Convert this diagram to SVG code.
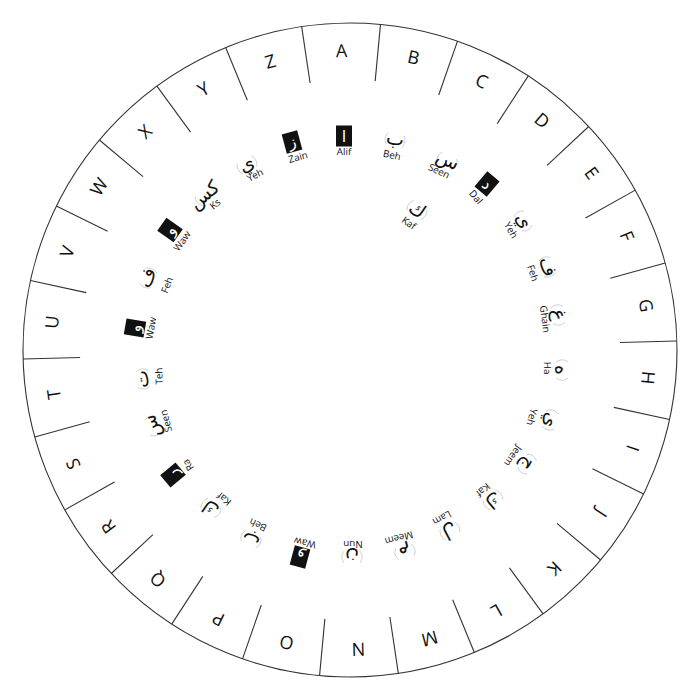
<svg xmlns="http://www.w3.org/2000/svg" xmlns:xlink="http://www.w3.org/1999/xlink" width="700" height="700" viewBox="0 0 700 700">
<style>
.ring{fill:none;stroke:#333;stroke-width:1.1}
.div{stroke:#333;stroke-width:1.1}
.L{font-family:"Open Sans","Liberation Sans",sans-serif;font-size:18px;fill:#111;text-anchor:middle;dominant-baseline:central}
.lab{font-family:"Open Sans","Liberation Sans",sans-serif;font-size:9.8px;fill:#111;text-anchor:middle;dominant-baseline:central}
.ar{font-family:"DejaVu Sans",sans-serif;font-size:19px;fill:#111;text-anchor:middle;dominant-baseline:central}
.arw{font-family:"DejaVu Sans",sans-serif;font-size:16px;fill:#fff;text-anchor:middle;dominant-baseline:central}
.box{fill:#111}
.arc{fill:none;stroke:#c8c8c8;stroke-width:0.8}
</style>
<defs>
<path id="arcs" class="arc" d="M-8,-6 A10,10 0 0 0 -8,6 M8,-6 A10,10 0 0 1 8,6"/>
</defs>
<rect width="700" height="700" fill="#fff"/>
<g id="wheel">
<circle class="ring" cx="350" cy="350" r="327"/>
</g>
<g id="connectors">
<line class="div" x1="350" y1="23" x2="350" y2="80" transform="rotate(-8.5 350 350)"/>
<line class="div" x1="350" y1="23" x2="350" y2="80" transform="rotate(5.35 350 350)"/>
<line class="div" x1="350" y1="23" x2="350" y2="80" transform="rotate(19.19 350 350)"/>
<line class="div" x1="350" y1="23" x2="350" y2="80" transform="rotate(33.04 350 350)"/>
<line class="div" x1="350" y1="23" x2="350" y2="80" transform="rotate(46.88 350 350)"/>
<line class="div" x1="350" y1="23" x2="350" y2="80" transform="rotate(60.73 350 350)"/>
<line class="div" x1="350" y1="23" x2="350" y2="80" transform="rotate(74.58 350 350)"/>
<line class="div" x1="350" y1="23" x2="350" y2="80" transform="rotate(88.42 350 350)"/>
<line class="div" x1="350" y1="23" x2="350" y2="80" transform="rotate(102.27 350 350)"/>
<line class="div" x1="350" y1="23" x2="350" y2="80" transform="rotate(116.11 350 350)"/>
<line class="div" x1="350" y1="23" x2="350" y2="80" transform="rotate(129.96 350 350)"/>
<line class="div" x1="350" y1="23" x2="350" y2="80" transform="rotate(143.81 350 350)"/>
<line class="div" x1="350" y1="23" x2="350" y2="80" transform="rotate(157.65 350 350)"/>
<line class="div" x1="350" y1="23" x2="350" y2="80" transform="rotate(171.5 350 350)"/>
<line class="div" x1="350" y1="23" x2="350" y2="80" transform="rotate(185.34 350 350)"/>
<line class="div" x1="350" y1="23" x2="350" y2="80" transform="rotate(199.19 350 350)"/>
<line class="div" x1="350" y1="23" x2="350" y2="80" transform="rotate(213.04 350 350)"/>
<line class="div" x1="350" y1="23" x2="350" y2="80" transform="rotate(226.88 350 350)"/>
<line class="div" x1="350" y1="23" x2="350" y2="80" transform="rotate(240.73 350 350)"/>
<line class="div" x1="350" y1="23" x2="350" y2="80" transform="rotate(254.57 350 350)"/>
<line class="div" x1="350" y1="23" x2="350" y2="80" transform="rotate(268.42 350 350)"/>
<line class="div" x1="350" y1="23" x2="350" y2="80" transform="rotate(282.27 350 350)"/>
<line class="div" x1="350" y1="23" x2="350" y2="80" transform="rotate(296.11 350 350)"/>
<line class="div" x1="350" y1="23" x2="350" y2="80" transform="rotate(309.96 350 350)"/>
<line class="div" x1="350" y1="23" x2="350" y2="80" transform="rotate(323.81 350 350)"/>
<line class="div" x1="350" y1="23" x2="350" y2="80" transform="rotate(337.65 350 350)"/>
</g>
<g id="outer-letters">
<text class="L" x="350" y="50" transform="rotate(-1.6 350 350)">A</text>
<text class="L" x="350" y="50" transform="rotate(12.25 350 350)">B</text>
<text class="L" x="350" y="50" transform="rotate(26.09 350 350)">C</text>
<text class="L" x="350" y="50" transform="rotate(39.94 350 350)">D</text>
<text class="L" x="350" y="50" transform="rotate(53.78 350 350)">E</text>
<text class="L" x="350" y="50" transform="rotate(67.63 350 350)">F</text>
<text class="L" x="350" y="50" transform="rotate(81.48 350 350)">G</text>
<text class="L" x="350" y="50" transform="rotate(95.32 350 350)">H</text>
<text class="L" x="350" y="50" transform="rotate(109.17 350 350)">I</text>
<text class="L" x="350" y="50" transform="rotate(123.01 350 350)">J</text>
<text class="L" x="350" y="50" transform="rotate(136.86 350 350)">K</text>
<text class="L" x="350" y="50" transform="rotate(150.71 350 350)">L</text>
<text class="L" x="350" y="50" transform="rotate(164.55 350 350)">M</text>
<text class="L" x="350" y="50" transform="rotate(178.4 350 350)">N</text>
<text class="L" x="350" y="50" transform="rotate(192.24 350 350)">O</text>
<text class="L" x="350" y="50" transform="rotate(206.09 350 350)">P</text>
<text class="L" x="350" y="50" transform="rotate(219.94 350 350)">Q</text>
<text class="L" x="350" y="50" transform="rotate(233.78 350 350)">R</text>
<text class="L" x="350" y="50" transform="rotate(247.63 350 350)">S</text>
<text class="L" x="350" y="50" transform="rotate(261.47 350 350)">T</text>
<text class="L" x="350" y="50" transform="rotate(275.32 350 350)">U</text>
<text class="L" x="350" y="50" transform="rotate(289.17 350 350)">V</text>
<text class="L" x="350" y="50" transform="rotate(303.01 350 350)">W</text>
<text class="L" x="350" y="50" transform="rotate(316.86 350 350)">X</text>
<text class="L" x="350" y="50" transform="rotate(330.71 350 350)">Y</text>
<text class="L" x="350" y="50" transform="rotate(344.55 350 350)">Z</text>
</g>
<g id="alif"><g transform="translate(344,136)"><rect class="box" x="-8" y="-10.5" width="16" height="21"/><text class="arw" x="0" y="0">ا</text></g><text class="lab" transform="translate(344,151)">Alif</text></g>
<g id="beh1"><g transform="translate(395,140) rotate(12)"><use xlink:href="#arcs"/><text class="ar" x="0" y="-2">ب</text></g><text class="lab" transform="translate(392,155) rotate(12)">Beh</text></g>
<g id="seen1"><g transform="translate(447,161) rotate(25)"><use xlink:href="#arcs"/><text class="ar" x="0" y="-2">س</text></g><text class="lab" transform="translate(439,171) rotate(25)">Seen</text></g>
<g id="dal"><g transform="translate(487,184) rotate(40)"><rect class="box" x="-8" y="-10" width="16" height="20"/><text class="arw" x="0" y="0">د</text></g><text class="lab" transform="translate(476,197) rotate(50)">Dal</text></g>
<g id="kaf1"><g transform="translate(417,210) rotate(35)"><use xlink:href="#arcs"/><text class="ar" x="0" y="-1">ك</text></g><text class="lab" transform="translate(409,223) rotate(35)">Kaf</text></g>
<g id="yeh1"><g transform="translate(523,221) rotate(60)"><use xlink:href="#arcs"/><text class="ar" x="0" y="-2">ي</text></g><text class="lab" transform="translate(511,230) rotate(60)">Yeh</text></g>
<g id="feh1"><g transform="translate(547,267) rotate(72)"><use xlink:href="#arcs"/><text class="ar" x="0" y="-2">ف</text></g><text class="lab" transform="translate(533,273) rotate(72)">Feh</text></g>
<g id="ghain"><g transform="translate(558,315) rotate(82)"><use xlink:href="#arcs"/><text class="ar" x="0" y="-2">غ</text></g><text class="lab" transform="translate(545,319) rotate(82)">Ghain</text></g>
<g id="ha"><g transform="translate(562,370) rotate(90)"><use xlink:href="#arcs"/><text class="ar" x="0" y="0">ه</text></g><text class="lab" transform="translate(547,368) rotate(90)">Ha</text></g>
<g id="yeh2"><g transform="translate(550,420) rotate(105)"><use xlink:href="#arcs"/><text class="ar" x="0" y="-2">ي</text></g><text class="lab" transform="translate(532,417) rotate(105)">Yeh</text></g>
<g id="jeem"><g transform="translate(527,464) rotate(125)"><use xlink:href="#arcs"/><text class="ar" x="0" y="-2">ج</text></g><text class="lab" transform="translate(513,456) rotate(125)">Jeem</text></g>
<g id="kaf2"><g transform="translate(493,500) rotate(140)"><use xlink:href="#arcs"/><text class="ar" x="0" y="-1">ك</text></g><text class="lab" transform="translate(483,490) rotate(140)">Kaf</text></g>
<g id="lam"><g transform="translate(450,531) rotate(152)"><use xlink:href="#arcs"/><text class="ar" x="0" y="-1">ل</text></g><text class="lab" transform="translate(442,518) rotate(152)">Lam</text></g>
<g id="meem"><g transform="translate(405,552) rotate(165)"><use xlink:href="#arcs"/><text class="ar" x="0" y="-1">م</text></g><text class="lab" transform="translate(399,538) rotate(165)">Meem</text></g>
<g id="nun"><g transform="translate(352,557) rotate(180)"><use xlink:href="#arcs"/><text class="ar" x="0" y="-1">ن</text></g><text class="lab" transform="translate(353,544) rotate(180)">Nun</text></g>
<g id="waw1"><g transform="translate(300,557) rotate(195)"><rect class="box" x="-8" y="-10" width="16" height="20"/><text class="arw" x="0" y="0">و</text></g><text class="lab" transform="translate(305,543) rotate(192)">Waw</text></g>
<g id="beh2"><g transform="translate(251,539) rotate(205)"><use xlink:href="#arcs"/><text class="ar" x="0" y="-2">ب</text></g><text class="lab" transform="translate(258,525) rotate(205)">Beh</text></g>
<g id="kaf3"><g transform="translate(211,508) rotate(215)"><use xlink:href="#arcs"/><text class="ar" x="0" y="-1">ك</text></g><text class="lab" transform="translate(224,499) rotate(220)">Kaf</text></g>
<g id="ra"><g transform="translate(173,475) rotate(230)"><rect class="box" x="-8" y="-10" width="16" height="20"/><text class="arw" x="0" y="0">ر</text></g><text class="lab" transform="translate(188,465) rotate(235)">Ra</text></g>
<g id="seen2"><g transform="translate(153,426) rotate(252)"><use xlink:href="#arcs"/><text class="ar" x="0" y="-2">س</text></g><text class="lab" transform="translate(166,421) rotate(255)">Seen</text></g>
<g id="teh"><g transform="translate(143,379) rotate(265)"><use xlink:href="#arcs"/><text class="ar" x="0" y="-2">ت</text></g><text class="lab" transform="translate(159,376) rotate(268)">Teh</text></g>
<g id="waw2"><g transform="translate(135,328) rotate(280)"><rect class="box" x="-8" y="-10" width="16" height="20"/><text class="arw" x="0" y="0">و</text></g><text class="lab" transform="translate(151,328) rotate(280)">Waw</text></g>
<g id="feh2"><g transform="translate(148,278) rotate(292)"><use xlink:href="#arcs"/><text class="ar" x="0" y="-2">ف</text></g><text class="lab" transform="translate(167,285) rotate(292)">Feh</text></g>
<g id="waw3"><g transform="translate(170,230) rotate(305)"><rect class="box" x="-8" y="-10" width="16" height="20"/><text class="arw" x="0" y="0">و</text></g><text class="lab" transform="translate(182,241) rotate(305)">Waw</text></g>
<g id="ks"><g transform="translate(205,196) rotate(320)"><use xlink:href="#arcs"/><text class="ar" x="0" y="-2">كس</text></g><text class="lab" transform="translate(215,204) rotate(320)">Ks</text></g>
<g id="yeh3"><g transform="translate(247,165) rotate(332)"><use xlink:href="#arcs"/><text class="ar" x="0" y="-2">ي</text></g><text class="lab" transform="translate(255,175) rotate(332)">Yeh</text></g>
<g id="zain"><g transform="translate(292,142) rotate(345)"><rect class="box" x="-8" y="-10" width="16" height="20"/><text class="arw" x="0" y="0">ز</text></g><text class="lab" transform="translate(298,157) rotate(345)">Zain</text></g>
</svg>
